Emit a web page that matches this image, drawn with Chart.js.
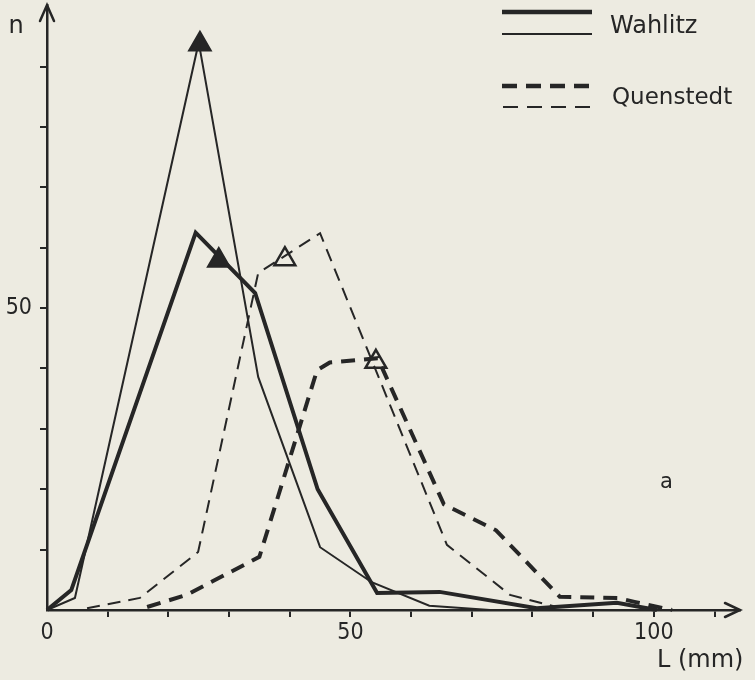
<!DOCTYPE html>
<html>
<head>
<meta charset="utf-8">
<script src="https://cdn.jsdelivr.net/npm/chart.js@4.4.1/dist/chart.umd.min.js"></script>
<style>
  html, body { margin: 0; padding: 0; background: #edebe1; }
  canvas { display: block; }
</style>
</head>
<body>
<canvas id="ctx" width="755" height="680"></canvas>
<script>
// values: L = length (mm), n = count
const wahlitzThickL = [0, 4, 24.5, 34.3, 44.6, 54.4, 64.7, 80.7, 93.9, 100.5];
const wahlitzThickN = [0, 3.3, 62.5, 52.5, 20, 2.8, 3, 0.3, 1.2, 0];

const wahlitzThinL = [0, 4.6, 25, 34.8, 45, 53.5, 63, 73];
const wahlitzThinN = [0, 2, 94, 38.6, 10.4, 4.6, 0.7, 0];

const quenstedtThickL = [16.5, 23, 35, 44.5, 46.6, 54.5, 65.4, 74, 84.5, 94, 97, 103];
const quenstedtThickN = [0.5, 2.5, 8.8, 39.7, 41, 41.7, 17.5, 13.2, 2.2, 2, 1.3, 0];

const quenstedtThinL = [6.6, 15.3, 24.9, 34.8, 45, 65.9, 76.3, 84];
const quenstedtThinN = [0.3, 2, 9.6, 55.8, 62.4, 10.8, 2.5, 0.5];

// triangle markers
const filledMarkL = [25.2, 28.3];
const filledMarkN = [93.7, 57.9];
const openMarkL = [39.2, 54.2];
const openMarkN = [58.1, 41.1];

const xLabels = [0, 50, 100];
const yLabels = [50];

const ink = "#262626";
const paper = "#edebe1";
const numFont = "'DejaVu Sans Condensed', 'DejaVu Sans', sans-serif";
const txtFont = "'DejaVu Sans', sans-serif";

const pts = (xs, ys) => xs.map((x, i) => ({ x: x, y: ys[i] }));

const lineSet = (xs, ys, width, dash) => ({
  data: pts(xs, ys),
  borderColor: ink,
  borderWidth: width,
  borderDash: dash,
  pointRadius: 0,
  tension: 0,
  fill: false,
  clip: false,
});

const markSet = (xs, ys, filled) => ({
  data: pts(xs, ys),
  showLine: false,
  pointStyle: "triangle",
  pointRadius: 12,
  pointHoverRadius: 12,
  pointBorderWidth: 2.5,
  pointBorderColor: ink,
  pointBackgroundColor: filled ? ink : paper,
  clip: false,
});

const extras = {
  id: "extras",
  beforeDraw(chart) {
    const c = chart.ctx;
    c.save();
    c.fillStyle = paper;
    c.fillRect(0, 0, chart.width, chart.height);
    c.restore();
  },
  afterDraw(chart) {
    const c = chart.ctx;
    const a = chart.chartArea;
    c.save();
    c.strokeStyle = ink;
    c.fillStyle = ink;
    c.lineWidth = 2.5;
    c.lineCap = "round";
    // arrow heads
    c.beginPath();
    c.moveTo(a.left - 7, a.top + 16);
    c.lineTo(a.left, a.top);
    c.lineTo(a.left + 7, a.top + 16);
    c.moveTo(a.right - 15, a.bottom - 7);
    c.lineTo(a.right, a.bottom);
    c.lineTo(a.right - 15, a.bottom + 7);
    c.stroke();

    // axis titles and panel letter
    c.font = "24px " + txtFont;
    c.textAlign = "center";
    c.textBaseline = "alphabetic";
    c.fillText("n", 16, 33);
    c.textAlign = "left";
    c.fillText("L (mm)", 657, 667);
    c.font = "21px " + txtFont;
    c.fillText("a", 660, 488);

    // legend
    c.lineCap = "butt";
    c.lineWidth = 4.5;
    c.beginPath(); c.moveTo(502, 12); c.lineTo(592, 12); c.stroke();
    c.lineWidth = 2;
    c.beginPath(); c.moveTo(502, 34); c.lineTo(592, 34); c.stroke();
    c.setLineDash([15, 9]);
    c.lineWidth = 4.5;
    c.beginPath(); c.moveTo(502, 86); c.lineTo(592, 86); c.stroke();
    c.lineWidth = 2;
    c.beginPath(); c.moveTo(503, 107); c.lineTo(592, 107); c.stroke();
    c.setLineDash([]);
    c.font = "24px " + txtFont;
    c.fillText("Wahlitz", 610, 33);
    c.font = "23px " + txtFont;
    c.fillText("Quenstedt", 612, 104);
    c.restore();
  },
};

new Chart(document.getElementById("ctx"), {
  type: "line",
  data: {
    datasets: [
      lineSet(wahlitzThickL, wahlitzThickN, 4, []),
      lineSet(wahlitzThinL, wahlitzThinN, 2, []),
      lineSet(quenstedtThickL, quenstedtThickN, 4, [14, 9]),
      lineSet(quenstedtThinL, quenstedtThinN, 2, [13, 8]),
      markSet(filledMarkL, filledMarkN, true),
      markSet(openMarkL, openMarkN, false),
    ],
  },
  options: {
    responsive: false,
    animation: false,
    layout: { autoPadding: false, padding: { top: 5, right: 15, left: 0, bottom: 0 } },
    plugins: { legend: { display: false }, tooltip: { enabled: false } },
    scales: {
      x: {
        type: "linear",
        min: 0,
        max: 114.2,
        afterFit: (s) => {
          s.height = 70;
          s.paddingLeft = 0;
          s.paddingRight = 0;
        },
        border: { display: true, color: ink, width: 2.5 },
        grid: {
          drawOnChartArea: false,
          drawTicks: true,
          tickLength: 7,
          lineWidth: 2,
          color: (ctx) => (ctx.tick && ctx.tick.value === 0 ? "rgba(0,0,0,0)" : ink),
        },
        ticks: {
          stepSize: 10,
          includeBounds: false,
          autoSkip: false,
          maxRotation: 0,
          padding: 2,
          color: ink,
          font: { family: numFont, size: 23 },
          callback: (v) => (xLabels.includes(v) ? String(v) : ""),
        },
      },
      y: {
        min: 0,
        max: 100.2,
        afterFit: (s) => {
          s.width = 47;
          s.paddingTop = 0;
          s.paddingBottom = 0;
        },
        border: { display: true, color: ink, width: 2.5 },
        grid: {
          drawOnChartArea: false,
          drawTicks: true,
          tickLength: 7,
          lineWidth: 2,
          color: (ctx) => (ctx.tick && (ctx.tick.value === 0 || ctx.tick.value > 95) ? "rgba(0,0,0,0)" : ink),
        },
        ticks: {
          stepSize: 10,
          includeBounds: false,
          autoSkip: false,
          padding: 8,
          color: ink,
          font: { family: numFont, size: 23 },
          callback: (v) => (yLabels.includes(v) ? String(v) : ""),
        },
      },
    },
  },
  plugins: [extras],
});
</script>
</body>
</html>
